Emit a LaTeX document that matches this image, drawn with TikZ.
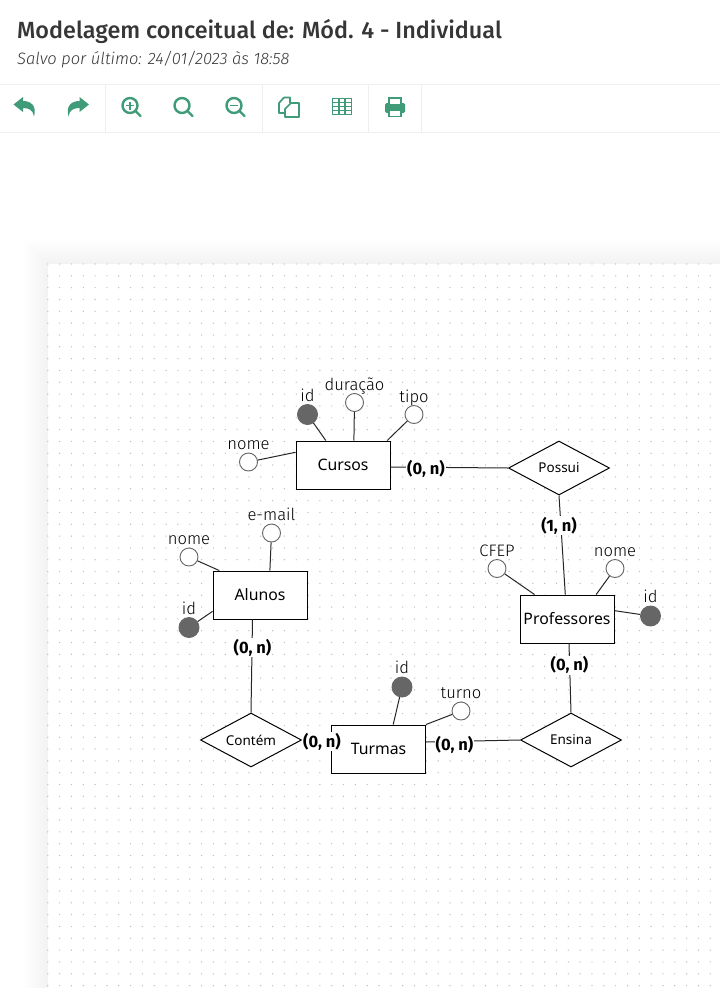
\documentclass[tikz,border=0pt]{standalone}
\usepackage{fontspec}
\setmainfont{Fira Sans}
\newfontfamily\titlefont{Fira Sans Medium}
\newfontfamily\savedfont{Fira Sans Light Italic}
\newfontfamily\boxfont{Noto Sans}
\newfontfamily\attrfont{Fira Sans Light}
\usetikzlibrary{shapes.geometric}
\definecolor{toolgreen}{HTML}{3F9B78}
\definecolor{keygray}{HTML}{666666}
\definecolor{dotgray}{HTML}{BDBDBD}
\definecolor{barline}{HTML}{EFEFEF}
\definecolor{titlegray}{HTML}{363636}

\tikzset{
  entity/.style = { draw, fill = white, line width = .95pt, minimum width = 94pt, minimum height = 48pt,
    inner sep = 0pt, font = \boxfont\fontsize{15.8}{18}\selectfont },
  relation/.style = { draw, fill = white, shape = diamond, line width = 1pt, aspect = 1.85, minimum width = 101pt,
    minimum height = 54pt, inner sep = 0pt, font = \boxfont\fontsize{13.5}{15}\selectfont },
  attr/.style = { draw = keygray, fill = white, shape = circle, line width = .9pt, minimum size = 18pt, inner sep = 0pt,
    label = { [attrtext] above : #1 } },
  keyattr/.style = { attr = {#1}, fill = keygray, minimum size = 20pt },
  attrtext/.style = { font = \attrfont\fontsize{16.6}{18}\selectfont, text = black, text depth = 0pt, inner sep = 0pt, label distance = 2.5pt },
  card/.style = { fill = white, inner sep = 1pt, yshift = -.8pt, font = \bfseries\fontsize{16.5}{18}\selectfont },
  link/.style = { line width = 1pt, black!85 },
  tool/.style = { toolgreen, line width = 2.4pt }
}

\begin{document}
\begin{tikzpicture}[x = 1pt, y = -1pt]
  \useasboundingbox (0,0) rectangle (720,988);
  \fill[white] (0,0) rectangle (720,988);

  \node[anchor = base west, inner sep = 0pt, text = titlegray, font = \titlefont\fontsize{23.4}{28}\selectfont] (title) at (17,38)
    {Modelagem conceitual de: Mód. 4 - Individual};
  \node[anchor = base west, inner sep = 0pt, text = titlegray, font = \savedfont\fontsize{16.5}{20}\selectfont] (saved) at (17,64)
    {Salvo por último: 24/01/2023 às 18:58};

  \draw[barline] (0,84.5) -- (720,84.5) (0,132.5) -- (720,132.5);
  \foreach \x in {105.5,262.5,368.5,421.5}
    \draw[barline] (\x,84.5) -- (\x,132.5);

  \fill[toolgreen] (13.5,104.5) -- (23,97) -- (23,101) .. controls (31,101) and (37,106) .. (34,116.5)
    .. controls (33,110) and (29,108) .. (23,108) -- (23,112) -- cycle;
  \fill[toolgreen] (89,104.5) -- (79.5,97) -- (79.5,101) .. controls (71.5,101) and (65.5,106) .. (68.5,116.5)
    .. controls (69.5,110) and (73.5,108) .. (79.5,108) -- (79.5,112) -- cycle;
  \foreach \x in {130,182,234} {
    \draw[tool] (\x,105.5) circle (7.5);
    \draw[tool, line cap = round] (\x+5.5,111) -- (\x+10.5,116);
  }
  \draw[toolgreen, line width = 1.6pt] (126,105.5) -- (134,105.5) (130,101.5) -- (130,109.5) (230,105.5) -- (238,105.5);
  \draw[toolgreen, line width = 1.7pt, line join = round] (284,113) -- (279,113) -- (279,103) -- (284,97.5) -- (290,97.5) -- (290,103);
  \draw[toolgreen, line width = 1.7pt, line join = round] (285,117) -- (299,117) -- (299,103) -- (291,103) -- (285,109) -- cycle;
  \draw[toolgreen, line width = 1.7pt] (332.5,98.5) rectangle (351.5,114.5);
  \draw[toolgreen, line width = 1.2pt] (332.5,102.5) -- (351.5,102.5) (332.5,106.5) -- (351.5,106.5) (332.5,110.5) -- (351.5,110.5)
    (339,98.5) -- (339,114.5) (345,98.5) -- (345,114.5);
  \fill[toolgreen, rounded corners = 1.5pt] (385,103) rectangle (405,113);
  \draw[toolgreen, fill = white, line width = 1.6pt] (389,98) rectangle (401,105);
  \draw[toolgreen, fill = white, line width = 1.6pt] (389,110) rectangle (401,116.5);

  \foreach \d [evaluate = \d as \s using 5*(1-\d/26)] in {26,24,...,2}
    \fill[black!\s] (48-\d,264-\d) rectangle (720,988);
  \fill[white] (48,264) rectangle (720,988);
  \foreach \x in {0,...,57}
    \foreach \y in {0,...,61}
      \fill[dotgray] (47.8+11.83*\x,264+11.83*\y) circle (.7);

  \node[entity] (cursos) at (343,465) {Cursos};
  \node[entity] (alunos) at (260,595) {Alunos};
  \node[entity] (professores) at (567,619) {Professores};
  \node[entity] (turmas) at (378.5,749) {Turmas};
  \node[relation] (possui) at (559,468) {Possui};
  \node[relation] (contem) at (251,740) {Contém};
  \node[relation] (ensina) at (571,740) {Ensina};

  \node[keyattr = {id}] (cursosId) at (307.5,414.5) {};
  \node[attr = {duração}] (cursosDuracao) at (354.5,402.5) {};
  \node[attr = {tipo}] (cursosTipo) at (414,414.5) {};
  \node[attr = {nome}] (cursosNome) at (248.5,462) {};
  \node[attr = {e-mail}] (alunosEmail) at (271.5,533) {};
  \node[attr = {nome}] (alunosNome) at (189,557) {};
  \node[keyattr = {id}] (alunosId) at (189,627.5) {};
  \node[keyattr = {id}] (turmasId) at (402,687) {};
  \node[attr = {turno}] (turmasTurno) at (461,711) {};
  \node[attr = {CFEP}] (professoresCfep) at (497,568.5) {};
  \node[attr = {nome}] (professoresNome) at (615,568.5) {};
  \node[keyattr = {id}] (professoresId) at (650.5,616) {};

  \draw[link] (cursosId) -- (cursos);
  \draw[link] (cursosDuracao) -- (cursos.66);
  \draw[link] (cursosTipo) -- (cursos.29);
  \draw[link] (cursosNome) -- (cursos.165);
  \draw[link] (alunosEmail) -- (alunos.68);
  \draw[link] (alunosNome) -- (alunos.149);
  \draw[link] (alunosId) -- (alunos.199);
  \draw[link] (turmasId) -- (turmas.59);
  \draw[link] (turmasTurno) -- (turmas.north east);
  \draw[link] (professoresCfep) -- (professores.143);
  \draw[link] (professoresNome) -- (professores.40);
  \draw[link] (professoresId) -- (professores.10);

  \draw[link] (cursos.east) ++ (0,2) -- (possui.west);
  \draw[link] (possui.south) -- (professores.94);
  \draw[link] (alunos.south) ++ (-7.5,0) -- (contem.north);
  \draw[link] (professores.south) ++ (2,0) -- (ensina.north);
  \draw[link] (contem.east) -- (turmas.west |- contem.east);
  \draw[link] (turmas.east) ++ (0,-7) -- (ensina.west);

  \node[card] (cardCursos) at (426,468) {(0, n)};
  \node[card] (cardPossui) at (559,525) {(1, n)};
  \node[card] (cardAlunos) at (252.5,647) {(0, n)};
  \node[card] (cardContem) at (322,741) {(0, n)};
  \node[card] (cardTurmas) at (454.5,744) {(0, n)};
  \node[card] (cardEnsina) at (569.5,664.5) {(0, n)};
\end{tikzpicture}
\end{document}
